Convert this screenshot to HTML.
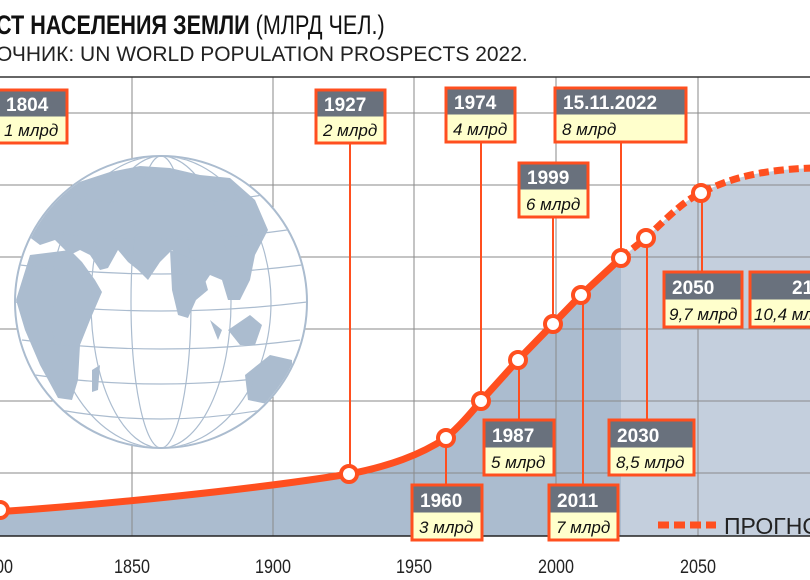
<!DOCTYPE html>
<html><head><meta charset="utf-8"><style>
html,body{margin:0;padding:0;background:#fff;width:810px;height:580px;overflow:hidden}
svg{display:block}
.t{font-family:"Liberation Sans",sans-serif}
.yr{font-family:"Liberation Sans",sans-serif;font-weight:bold;font-size:19px;fill:#fff}
.vl{font-family:"Liberation Sans",sans-serif;font-style:italic;font-size:17px;fill:#111}
.tk{font-family:"Liberation Sans",sans-serif;font-size:19px;fill:#222}
</style></head><body>
<svg width="810" height="580" viewBox="0 0 810 580" xmlns="http://www.w3.org/2000/svg">
<g transform="translate(-4,34) scale(0.8,1)"><text x="0" y="0" class="t" font-size="27" font-weight="bold" fill="#111">СТ НАСЕЛЕНИЯ ЗЕМЛИ <tspan font-weight="normal">(МЛРД ЧЕЛ.)</tspan></text></g>
<text x="-4" y="61" class="t" font-size="21" fill="#222">ОЧНИК: UN WORLD POPULATION PROSPECTS 2022.</text>
<path d="M -5 512 C 100 505, 250 490, 349 474 C 390 466, 420 455, 446 438 C 460 426, 470 414, 481 401 L 518 360 L 553 324 L 581 295 L 621 258 L 621 536 L -5 536 Z" fill="#abbccf"/>
<path d="M 621 258 L 646 238 C 670 215, 685 200, 701 193 C 730 178, 760 170, 812 168 L 812 536 L 621 536 Z" fill="#c4cfdd"/>
<g stroke="#8a8a8a" stroke-width="1" fill="none">
<line x1="0" y1="113" x2="810" y2="113"/>
<line x1="0" y1="185" x2="810" y2="185"/>
<line x1="0" y1="257" x2="810" y2="257"/>
<line x1="0" y1="329" x2="810" y2="329"/>
<line x1="0" y1="401" x2="810" y2="401"/>
<line x1="0" y1="473" x2="810" y2="473"/>
<line x1="132" y1="77" x2="132" y2="536"/>
<line x1="273" y1="77" x2="273" y2="536"/>
<line x1="414" y1="77" x2="414" y2="536"/>
<line x1="556" y1="77" x2="556" y2="536"/>
<line x1="698" y1="77" x2="698" y2="536"/>
</g>
<line x1="0" y1="77" x2="810" y2="77" stroke="#333" stroke-width="1.5"/>
<line x1="0" y1="536" x2="810" y2="536" stroke="#222" stroke-width="1.5"/>
<g>
<circle cx="161" cy="302" r="146" fill="#fff" stroke="#abbccf" stroke-width="2"/>
<clipPath id="gc"><circle cx="161" cy="302" r="145"/></clipPath>
<g clip-path="url(#gc)" fill="#abbccf">
<path d="M 20 230 L 50 200 L 70 185 L 110 172 L 140 166 L 170 168 L 200 175 L 230 178 L 255 200 L 268 230 L 255 255 L 250 280 L 240 300 L 228 300 L 222 280 L 210 275 L 200 290 L 192 295 L 185 265 L 172 250 L 160 262 L 148 280 L 138 270 L 128 262 L 118 250 L 108 268 L 100 270 L 90 255 L 80 250 L 70 255 L 55 240 L 40 245 Z"/>
<path d="M 170 250 L 200 262 L 208 290 L 196 300 L 188 318 L 178 315 L 172 290 Z"/>
<path d="M 16 300 L 30 255 L 70 250 L 82 262 L 95 280 L 102 292 L 90 320 L 80 345 L 78 380 L 72 400 L 58 398 L 40 365 L 25 330 Z"/>
<path d="M 92 370 L 100 365 L 98 390 L 92 392 Z"/>
<path d="M 228 330 L 250 315 L 262 325 L 255 345 L 240 345 Z"/>
<path d="M 210 320 L 222 330 L 218 340 Z"/>
<path d="M 245 375 L 270 355 L 292 360 L 292 390 L 272 405 L 248 400 Z"/>
</g>
<g clip-path="url(#gc)" fill="none" stroke="#abbccf" stroke-width="1.2">
<ellipse cx="161" cy="302" rx="146" ry="146"/>
<ellipse cx="161" cy="302" rx="110" ry="146"/>
<ellipse cx="161" cy="302" rx="70" ry="146"/>
<ellipse cx="161" cy="302" rx="30" ry="146"/>
<path d="M 15 302 Q 161 320 307 302"/>
<path d="M 22 340 Q 161 358 300 340"/>
<path d="M 35 375 Q 161 393 287 375"/>
<path d="M 60 410 Q 161 428 262 410"/>
<path d="M 20 265 Q 161 283 302 265"/>
<path d="M 35 230 Q 161 248 287 230"/>
<path d="M 60 195 Q 161 213 262 195"/>
</g>
</g>
<g stroke="#ff4f1f" stroke-width="2">
<line x1="350" y1="144" x2="350" y2="474"/>
<line x1="446" y1="438" x2="446" y2="484"/>
<line x1="481" y1="143" x2="481" y2="401"/>
<line x1="519" y1="360" x2="519" y2="419"/>
<line x1="553" y1="217" x2="553" y2="324"/>
<line x1="583" y1="295" x2="583" y2="484"/>
<line x1="621" y1="143" x2="621" y2="258"/>
<line x1="647" y1="238" x2="647" y2="419"/>
<line x1="702" y1="193" x2="702" y2="271"/>
</g>
<path d="M -5 512 C 100 505, 250 490, 349 474 C 390 466, 420 455, 446 438 C 460 426, 470 414, 481 401 L 518 360 L 553 324 L 581 295 L 621 258" fill="none" stroke="#ff4f1f" stroke-width="7" stroke-linejoin="round"/>
<path d="M 621 258 L 646 238 C 670 215, 685 200, 701 193 C 730 178, 760 170, 812 168" fill="none" stroke="#ff4f1f" stroke-width="7" stroke-dasharray="10 5"/>
<g fill="#fff" stroke="#ff4f1f" stroke-width="4">
<circle cx="0" cy="510" r="8"/>
<circle cx="349" cy="474" r="8"/>
<circle cx="446" cy="438" r="8"/>
<circle cx="481" cy="401" r="8"/>
<circle cx="518" cy="360" r="8"/>
<circle cx="553" cy="324" r="8"/>
<circle cx="581" cy="295" r="8"/>
<circle cx="621" cy="258" r="8"/>
<circle cx="646" cy="238" r="8"/>
<circle cx="701" cy="193" r="8"/>
</g>
<g>
<g transform="translate(-10,90)"><rect x="0" y="0" width="77" height="53" fill="#ffffcc" stroke="#ff4f1f" stroke-width="3"/><rect x="1.5" y="1.5" width="74" height="25" fill="#69717d"/><text x="16" y="21" class="yr">1804</text><text x="14" y="46" class="vl">1 млрд</text></g>
<g transform="translate(316,90)"><rect x="0" y="0" width="69" height="53" fill="#ffffcc" stroke="#ff4f1f" stroke-width="3"/><rect x="1.5" y="1.5" width="66" height="25" fill="#69717d"/><text x="8" y="21" class="yr">1927</text><text x="7" y="46" class="vl">2 млрд</text></g>
<g transform="translate(446,88)"><rect x="0" y="0" width="69" height="54" fill="#ffffcc" stroke="#ff4f1f" stroke-width="3"/><rect x="1.5" y="1.5" width="66" height="25" fill="#69717d"/><text x="8" y="21" class="yr">1974</text><text x="7" y="47" class="vl">4 млрд</text></g>
<g transform="translate(555,88)"><rect x="0" y="0" width="131" height="54" fill="#ffffcc" stroke="#ff4f1f" stroke-width="3"/><rect x="1.5" y="1.5" width="128" height="25" fill="#69717d"/><text x="8" y="21" class="yr">15.11.2022</text><text x="7" y="47" class="vl">8 млрд</text></g>
<g transform="translate(519,163)"><rect x="0" y="0" width="69" height="54" fill="#ffffcc" stroke="#ff4f1f" stroke-width="3"/><rect x="1.5" y="1.5" width="66" height="25" fill="#69717d"/><text x="8" y="21" class="yr">1999</text><text x="7" y="47" class="vl">6 млрд</text></g>
<g transform="translate(484,420)"><rect x="0" y="0" width="70" height="55" fill="#ffffcc" stroke="#ff4f1f" stroke-width="3"/><rect x="1.5" y="1.5" width="67" height="26" fill="#69717d"/><text x="8" y="22" class="yr">1987</text><text x="7" y="48" class="vl">5 млрд</text></g>
<g transform="translate(412,485)"><rect x="0" y="0" width="70" height="55" fill="#ffffcc" stroke="#ff4f1f" stroke-width="3"/><rect x="1.5" y="1.5" width="67" height="26" fill="#69717d"/><text x="8" y="22" class="yr">1960</text><text x="7" y="48" class="vl">3 млрд</text></g>
<g transform="translate(549,485)"><rect x="0" y="0" width="69" height="55" fill="#ffffcc" stroke="#ff4f1f" stroke-width="3"/><rect x="1.5" y="1.5" width="66" height="26" fill="#69717d"/><text x="8" y="22" class="yr">2011</text><text x="7" y="48" class="vl">7 млрд</text></g>
<g transform="translate(609,420)"><rect x="0" y="0" width="85" height="55" fill="#ffffcc" stroke="#ff4f1f" stroke-width="3"/><rect x="1.5" y="1.5" width="82" height="26" fill="#69717d"/><text x="8" y="22" class="yr">2030</text><text x="7" y="48" class="vl">8,5 млрд</text></g>
<g transform="translate(664,272)"><rect x="0" y="0" width="78" height="55" fill="#ffffcc" stroke="#ff4f1f" stroke-width="3"/><rect x="1.5" y="1.5" width="75" height="26" fill="#69717d"/><text x="8" y="22" class="yr">2050</text><text x="5" y="48" class="vl">9,7 млрд</text></g>
<g transform="translate(750,272)"><rect x="0" y="0" width="100" height="55" fill="#ffffcc" stroke="#ff4f1f" stroke-width="3"/><rect x="1.5" y="1.5" width="97" height="26" fill="#69717d"/><text x="42" y="22" class="yr">2100</text><text x="4" y="48" class="vl">10,4 млрд</text></g>
</g>
<line x1="658" y1="525" x2="716" y2="525" stroke="#ff4f1f" stroke-width="7" stroke-dasharray="11 5"/>
<text x="724" y="534" class="t" font-size="23" fill="#222">ПРОГНОЗ</text>
<g class="tk" text-anchor="middle">
<text transform="translate(-5,573) scale(0.85,1)">1800</text>
<text transform="translate(132,573) scale(0.85,1)">1850</text>
<text transform="translate(273,573) scale(0.85,1)">1900</text>
<text transform="translate(414,573) scale(0.85,1)">1950</text>
<text transform="translate(556,573) scale(0.85,1)">2000</text>
<text transform="translate(698,573) scale(0.85,1)">2050</text>
</g>
</svg>
</body></html>
